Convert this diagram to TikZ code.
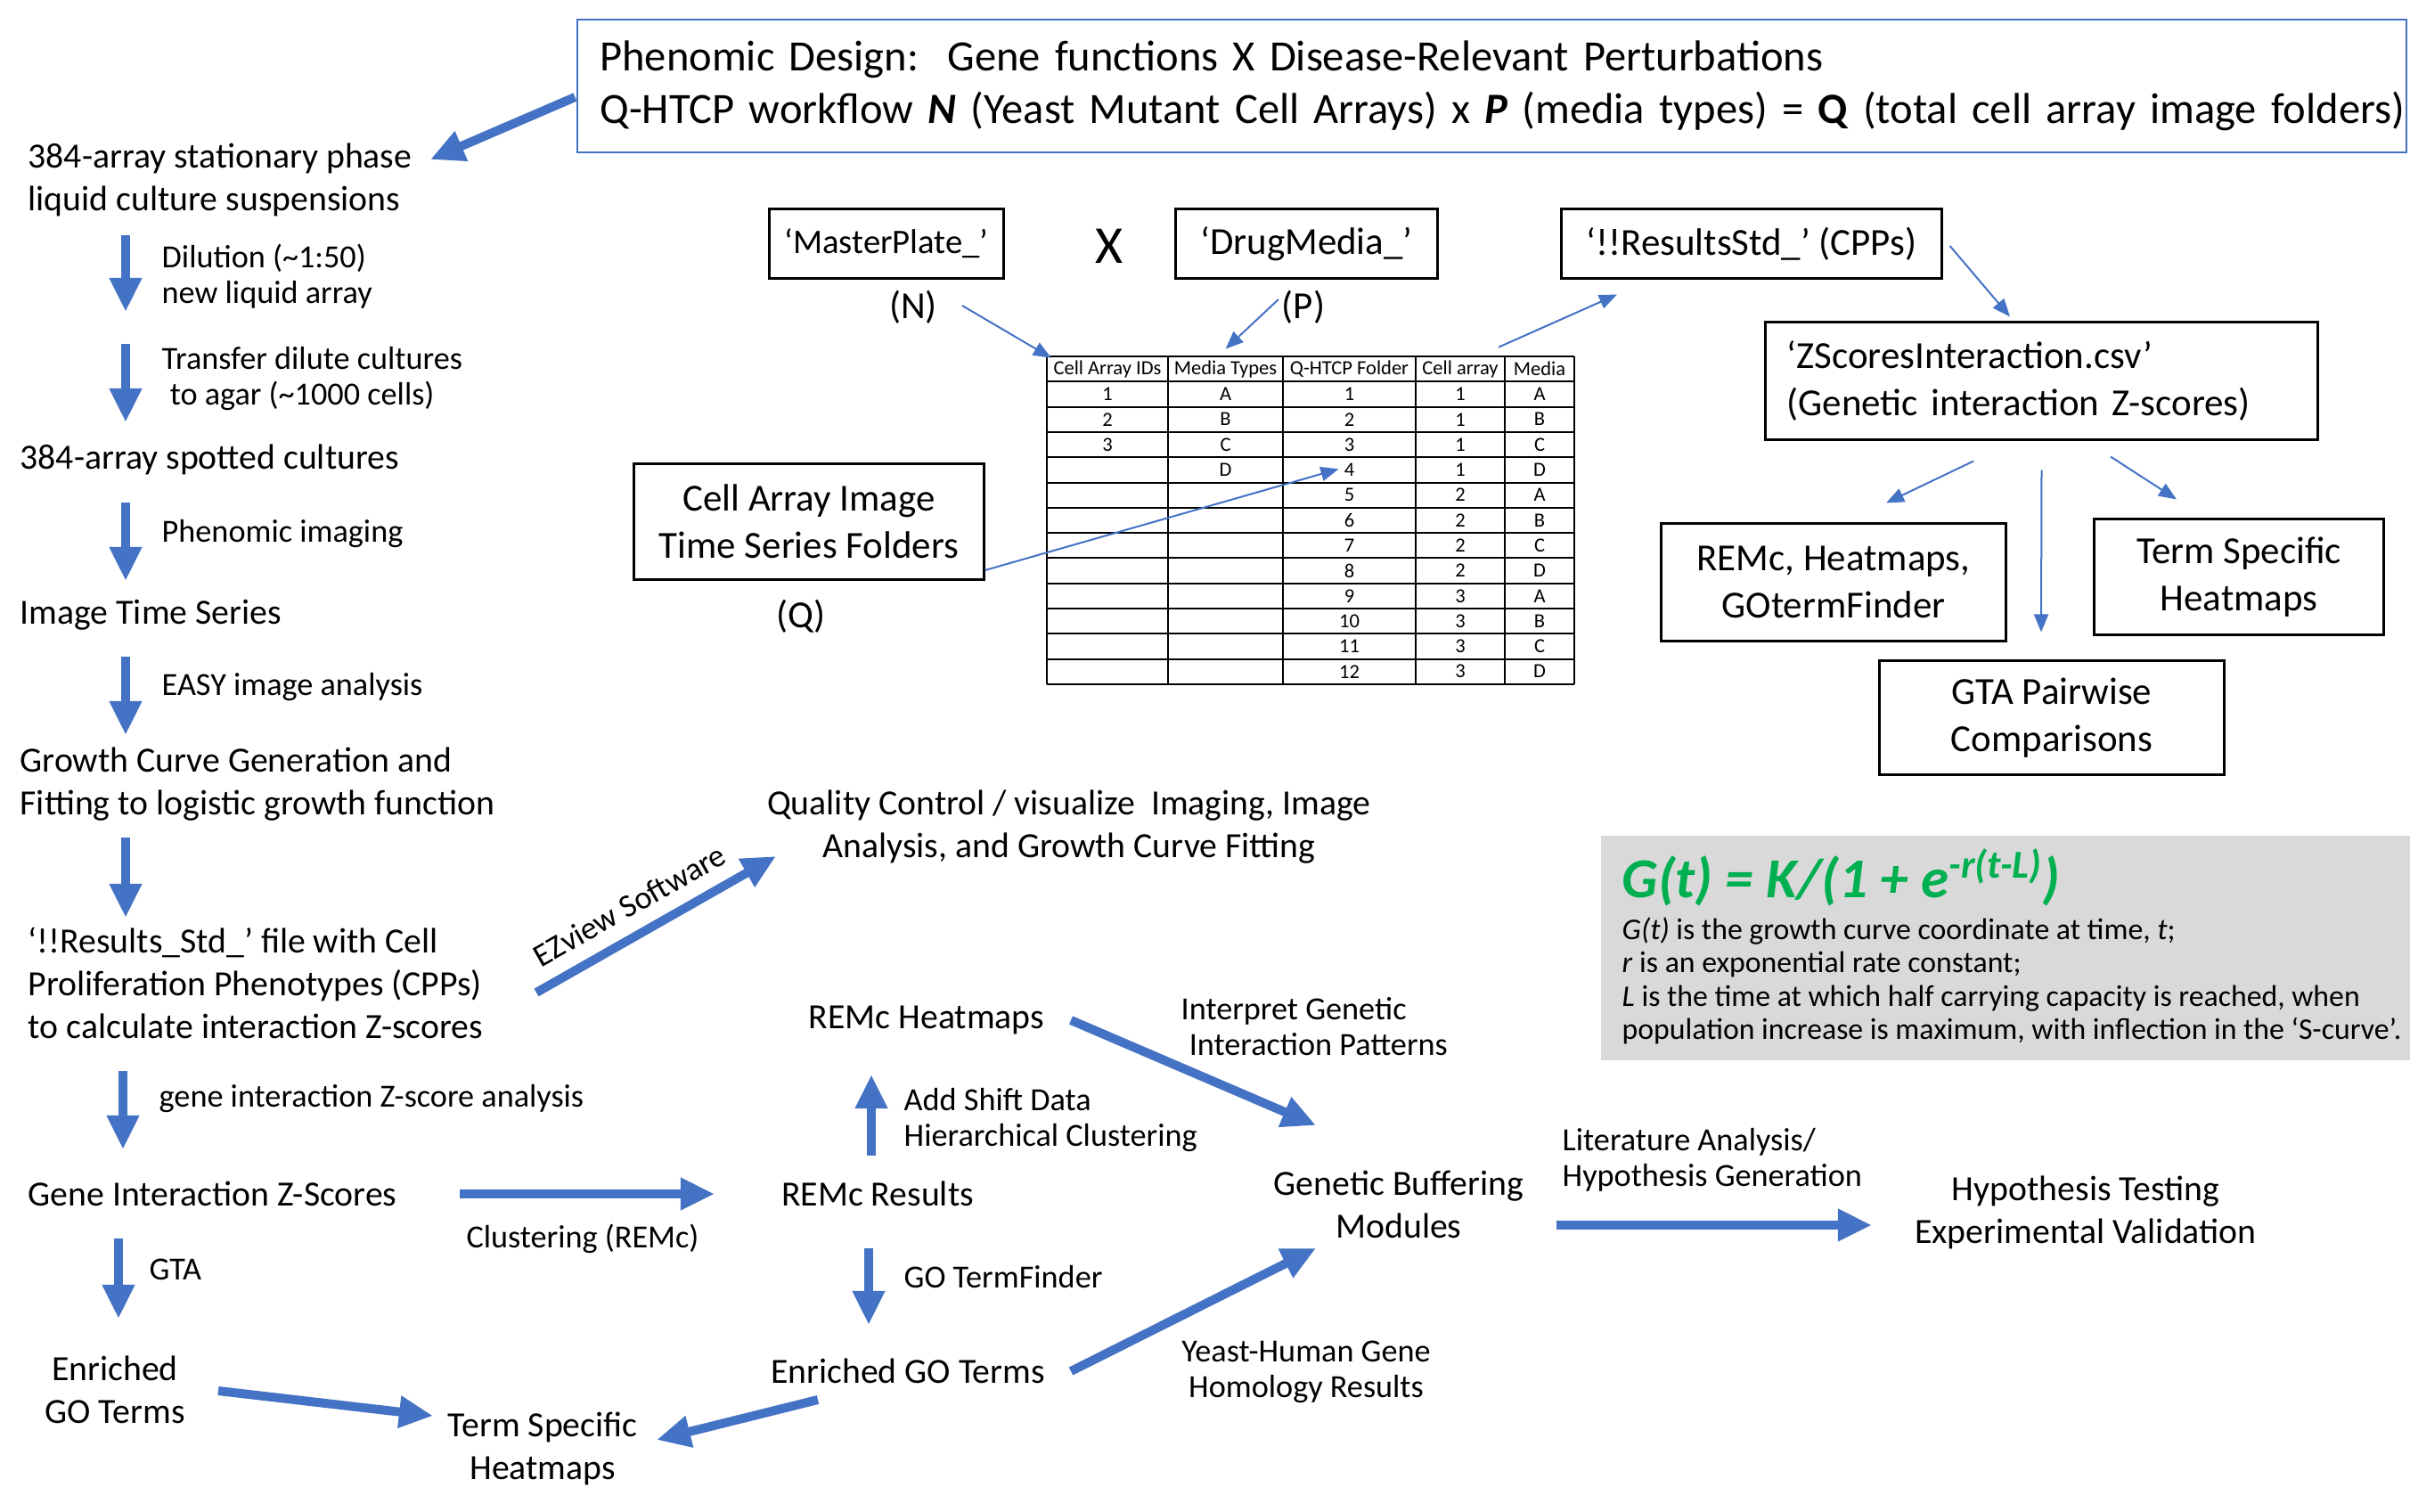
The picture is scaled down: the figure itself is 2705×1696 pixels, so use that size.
\documentclass[tikz,border=0pt]{standalone}
\usepackage{fontspec}
\setmainfont{Carlito}
\usetikzlibrary{positioning, arrows.meta}
\definecolor{flowblue}{HTML}{4472C4}
\definecolor{boxgrey}{HTML}{D9D9D9}
\definecolor{fitgreen}{HTML}{00B050}
\newcommand{\sizemain}{\fontsize{11.3}{13.7}\selectfont}
\newcommand{\sizelab}{\fontsize{10.3}{11.4}\selectfont}
\newcommand{\sizebox}{\fontsize{12.2}{15.2}\selectfont}
\newcommand{\sizetop}{\fontsize{13.8}{16.8}\selectfont}
\newcommand{\sizetab}{\fontsize{6.4}{7.5}\selectfont}
\newcommand{\sizeform}{\fontsize{18}{20}\selectfont}
\newcommand{\sizedesc}{\fontsize{9.6}{10.6}\selectfont}

\begin{document}
\begin{tikzpicture}[x=0.01cm, y=-0.01cm]
\tikzstyle{plain} = [inner sep=0pt, font=\sizemain, align=center]
\tikzstyle{steplabel} = [inner sep=0pt, font=\sizelab, align=left, anchor=west]
\tikzstyle{block} = [rectangle, draw, line width=0.03cm, font=\sizebox, align=center]
\tikzstyle{cell} = [inner sep=0pt, font=\sizetab]
\tikzstyle{bigarrow} = [draw=flowblue, line width=0.1cm, -{Triangle[length=0.38cm, width=0.34cm]}]
\tikzstyle{thinarrow} = [draw=flowblue, line width=0.02cm, -{Triangle[length=0.2cm, width=0.16cm]}]

\useasboundingbox (0,0) rectangle (2705,1696);

% header box
\node (top) [rectangle, draw=flowblue, line width=0.02cm, minimum width=20.51cm, minimum height=1.49cm,
    text width=20.01cm, align=left, font=\sizetop] at (1674.5,96.5)
    {\mbox{Phenomic Design:\ \ Gene functions X Disease-Relevant Perturbations}\\
     \mbox{Q-HTCP workflow \textbf{\textit{N}} (Yeast Mutant Cell Arrays) x \textbf{\textit{P}} (media types) = \textbf{Q} (total cell array image folders)}};

% left column
\node (s1) [plain, anchor=west, align=left] at (31,202) {384-array stationary phase\\liquid culture suspensions};
\node (l1) [steplabel] at (181,310) {Dilution (\textasciitilde1:50)\\new liquid array};
\node (l2) [steplabel] at (181,425) {Transfer dilute cultures\\\hspace{0.25em}to agar (\textasciitilde1000 cells)};
\node (s2) [plain, anchor=west] at (22,516) {384-array spotted cultures};
\node (l3) [steplabel] at (181,599) {Phenomic imaging};
\node (s3) [plain, anchor=west] at (22,690) {Image Time Series};
\node (l4) [steplabel] at (181,771) {EASY image analysis};
\node (s4) [plain, anchor=west, align=left] at (22,880) {Growth Curve Generation and\\Fitting to logistic growth function};
\node (s5) [plain, anchor=west, align=left] at (31,1103) {‘!!Results\_Std\_’ file with Cell\\Proliferation Phenotypes (CPPs)\\to calculate interaction Z-scores};
\node (l6) [steplabel] at (178,1233) {gene interaction Z-score analysis};
\node (s6) [plain, anchor=west] at (31,1340) {Gene Interaction Z-Scores};
\node (l7) [steplabel] at (167,1425) {GTA};
\node (en) [plain] at (129,1560) {Enriched\\GO Terms};

\path[bigarrow] ([shift={(-2,12.5)}]top.west) -- ([shift={(452,-23)}]s1.west);
\path[bigarrow] ([shift={(110,62)}]s1.west) -- ([shift={(-40,40)}]l1.west);
\path[bigarrow] ([shift={(-40,-39)}]l2.west) -- ([shift={(119,-42)}]s2.west);
\path[bigarrow] ([shift={(119,48)}]s2.west) -- ([shift={(119,-38)}]s3.west);
\path[bigarrow] ([shift={(119,47)}]s3.west) -- ([shift={(119,-55)}]s4.west);
\path[bigarrow] ([shift={(119,60)}]s4.west) -- ([shift={(110,-73)}]s5.west);
\path[bigarrow] ([shift={(107,99)}]s5.west) -- ([shift={(107,-50)}]s6.west);
\path[bigarrow] ([shift={(102,50)}]s6.west) -- ([shift={(4,-80)}]en.center);

% middle flow
\node (qc) [plain] at (1200,928) {Quality Control / visualize\ \ Imaging, Image\\Analysis, and Growth Curve Fitting};
\node (rhm) [plain] at (1040,1145) {REMc Heatmaps};
\node (rr) [plain] at (985,1340) {REMc Results};
\node (eg) [plain] at (1019,1539) {Enriched GO Terms};
\node (tsh) [plain] at (609,1626) {Term Specific\\Heatmaps};
\node (gb) [plain] at (1570,1352) {Genetic Buffering\\Modules};
\node (ht) [plain] at (2341,1361) {Hypothesis Testing\\Experimental Validation};

\node (cl) [steplabel, anchor=center] at (654,1390) {Clustering (REMc)};
\node (hc) [steplabel] at (1014,1257) {Add Shift Data\\Hierarchical Clustering};
\node (gt) [steplabel] at (1014,1433) {GO TermFinder};
\node (ig) [steplabel] at (1325,1152) {Interpret Genetic\\\hspace{0.25em}Interaction Patterns};
\node (yh) [steplabel, anchor=center, align=center] at (1466,1540) {Yeast-Human Gene\\Homology Results};
\node (la) [steplabel] at (1753,1302) {Literature Analysis/\\Hypothesis Generation};

\path[bigarrow] ([shift={(571,11)}]s5.west) -- node[pos=0.45, above=4.5pt, sloped, inner sep=0pt, font=\sizelab] {EZview Software} ([shift={(-329,33)}]qc.center);
\path[bigarrow] ([shift={(485,0)}]s6.west) -- ([shift={(-183,0)}]rr.center);
\path[bigarrow] ([shift={(-7,-43)}]rr.center) -- ([shift={(-62,61)}]rhm.center);
\path[bigarrow] ([shift={(-10,61)}]rr.center) -- ([shift={(-44,-52)}]eg.center);
\path[bigarrow] ([shift={(162,0)}]rhm.center) -- ([shift={(-93,-89)}]gb.center);
\path[bigarrow] ([shift={(183,0)}]eg.center) -- ([shift={(-93,49)}]gb.center);
\path[bigarrow] ([shift={(-101,32)}]eg.center) -- ([shift={(128,-10)}]tsh.center);
\path[bigarrow] ([shift={(116,1)}]en.center) -- ([shift={(-123,-37)}]tsh.center);
\path[bigarrow] ([shift={(177,23)}]gb.center) -- ([shift={(-240,14)}]ht.center);

% file boxes
\node (mp) [block, minimum width=2.62cm, minimum height=0.77cm, font=\fontsize{11}{13}\selectfont] at (995,273.5) {‘MasterPlate\_’};
\node (xx) [inner sep=0pt, font=\fontsize{17}{20}\selectfont] at (1245,276) {X};
\node (dm) [block, minimum width=2.93cm, minimum height=0.77cm] at (1466.5,273.5) {‘DrugMedia\_’};
\node (rs) [block, minimum width=4.26cm, minimum height=0.77cm] at (1966,273.5) {‘!!ResultsStd\_’ (CPPs)};
\node (nl) [inner sep=0pt, font=\sizebox] at (1025,345) {(N)};
\node (pl) [inner sep=0pt, font=\sizebox] at (1463,345) {(P)};
\node (ca) [block, minimum width=3.92cm, minimum height=1.29cm] at (908,585.5) {Cell Array Image\\Time Series Folders};
\node (ql) [inner sep=0pt, font=\sizebox] at (899,692) {(Q)};
\node (zs) [block, minimum width=6.19cm, minimum height=1.31cm, text width=5.71cm, align=left] at (2291.5,427.5)
    {‘ZScoresInteraction.csv’\\(Genetic interaction Z-scores)};
\node (rh) [block, minimum width=3.86cm, minimum height=1.31cm] at (2058,653.5) {REMc, Heatmaps,\\GOtermFinder};
\node (ts) [block, minimum width=3.24cm, minimum height=1.29cm] at (2513,647.5) {Term Specific\\Heatmaps};
\node (gta) [block, minimum width=3.86cm, minimum height=1.27cm] at (2303,805.5) {GTA Pairwise\\Comparisons};

% table of folders
\foreach \x in {1175,1311,1440,1589,1689,1767}
    \draw[line width=0.02cm] (\x,400) -- (\x,768);
\foreach \k in {0,...,13}
    \draw[line width=0.02cm] (1175,{400+28.3*\k}) -- (1767,{400+28.3*\k});
\foreach \x/\t [count=\i] in {1243/Cell Array IDs, 1375.5/Media Types, 1514.5/Q-HTCP Folder, 1639/Cell array, 1728/Media}
    \node (h\i) [cell] at (\x,414) {\t};
\foreach \r in {1,2,3}
    \node (id\r) [cell] at (1243,{400+28.3*(\r+0.5)}) {\r};
\foreach \r/\m in {1/A,2/B,3/C,4/D}
    \node (mt\r) [cell] at (1375.5,{400+28.3*(\r+0.5)}) {\m};
\foreach \r/\g/\m in {1/1/A,2/1/B,3/1/C,4/1/D,5/2/A,6/2/B,7/2/C,8/2/D,9/3/A,10/3/B,11/3/C,12/3/D} {
    \node (q\r) [cell] at (1514.5,{400+28.3*(\r+0.5)}) {\r};
    \node (g\r) [cell] at (1639,{400+28.3*(\r+0.5)}) {\g};
    \node (m\r) [cell] at (1728,{400+28.3*(\r+0.5)}) {\m};
}

\path[thinarrow] ([shift={(55,-2)}]nl.center) -- ([shift={(-2,-2)}]h1.north west);
\path[thinarrow] ([shift={(-28,-9)}]pl.center) -- ([shift={(0,-12)}]h2.north);
\path[thinarrow] ([shift={(43,-14)}]h4.north) -- ([shift={(-151,17)}]rs.south);
\path[thinarrow] ([shift={(8,2.5)}]rs.east) -- ([shift={(-35.5,-5)}]zs.north);
\path[thinarrow] ([shift={(-76.5,23)}]zs.south) -- ([shift={(59,-22)}]rh.north);
\path[thinarrow] ([shift={(0,33)}]zs.south) -- ([shift={(-12,-31)}]gta.north);
\path[thinarrow] ([shift={(77.5,18)}]zs.south) -- ([shift={(-70,-21)}]ts.north);
\path[thinarrow] ([shift={(0,54.5)}]ca.east) -- ([shift={(-12,-1)}]q4.center);

% growth function panel
\node (gbox) [fill=boxgrey, minimum width=9.08cm, minimum height=2.52cm] at (2251,1064) {};
\node (fm) [inner sep=0pt, anchor=west, font=\sizeform\bfseries\itshape, text=fitgreen] at (1820,985)
    {G(t) = K/(1 + e\textsuperscript{-r(t-L)})};
\node (desc) [inner sep=0pt, anchor=west, align=left, font=\sizedesc] at (1820,1101)
    {\textit{G(t)} is the growth curve coordinate at time, \textit{t};\\
     \textit{r} is an exponential rate constant;\\
     \textit{L} is the time at which half carrying capacity is reached, when\\
     population increase is maximum, with inflection in the ‘S-curve’.};
\end{tikzpicture}
\end{document}
